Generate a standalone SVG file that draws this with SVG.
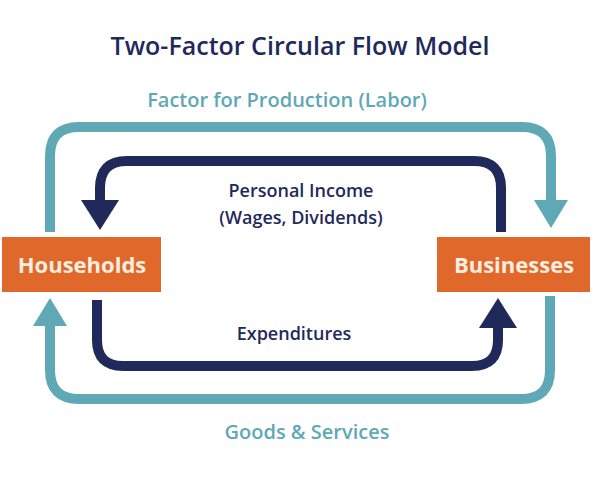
<svg xmlns="http://www.w3.org/2000/svg" width="600" height="480" viewBox="0 0 600 480">
<style>
text{font-family:"Open Sans","Liberation Sans",sans-serif;font-weight:600}
.teal{fill:none;stroke:#5fa8b5;stroke-width:10}
.navy{fill:none;stroke:#1f2a5a;stroke-width:10}
.box{fill:#e0682b}
.bt{fill:#fbeee0;font-size:22px;font-weight:700}
</style>
<rect width="600" height="480" fill="#fff"/>
<text x="300" y="55" text-anchor="middle" font-size="25" fill="#1f2a5a">Two-Factor Circular Flow Model</text>
<g id="connectors">
<path class="teal" d="M50 232 V156 Q50 127 79 127 H522 Q551 127 551 156 V200"/>
<polygon points="534,200 568,200 551,228" fill="#5fa8b5"/>
<path class="teal" d="M550 296 V370 Q550 399 521 399 H79 Q50 399 50 370 V326"/>
<polygon points="33,326 67,326 50,298" fill="#5fa8b5"/>
<path class="navy" d="M501 232 V188 Q501 161 474 161 H127 Q100 161 100 188 V200"/>
<polygon points="81,200 119,200 100,230" fill="#1f2a5a"/>
<path class="navy" d="M97 300 V340 Q97 366 123 366 H472 Q498 366 498 340 V328"/>
<polygon points="479,328 517,328 498,298" fill="#1f2a5a"/>
<text x="287" y="107" text-anchor="middle" font-size="20" fill="#5fa8b5">Factor for Production (Labor)</text>
<text x="301" y="197" text-anchor="middle" font-size="18" fill="#1f2a5a">Personal Income</text>
<text x="301" y="224" text-anchor="middle" font-size="18" fill="#1f2a5a">(Wages, Dividends)</text>
<text x="294" y="340" text-anchor="middle" font-size="18" fill="#1f2a5a">Expenditures</text>
<text x="307" y="439" text-anchor="middle" font-size="20" fill="#5fa8b5">Goods &amp; Services</text>
</g>
<g id="households"><rect class="box" x="2" y="237" width="159" height="55"/><text class="bt" x="82" y="273" text-anchor="middle">Households</text></g>
<g id="businesses"><rect class="box" x="437" y="237" width="153" height="55"/><text class="bt" x="514" y="273" text-anchor="middle">Businesses</text></g>
</svg>
